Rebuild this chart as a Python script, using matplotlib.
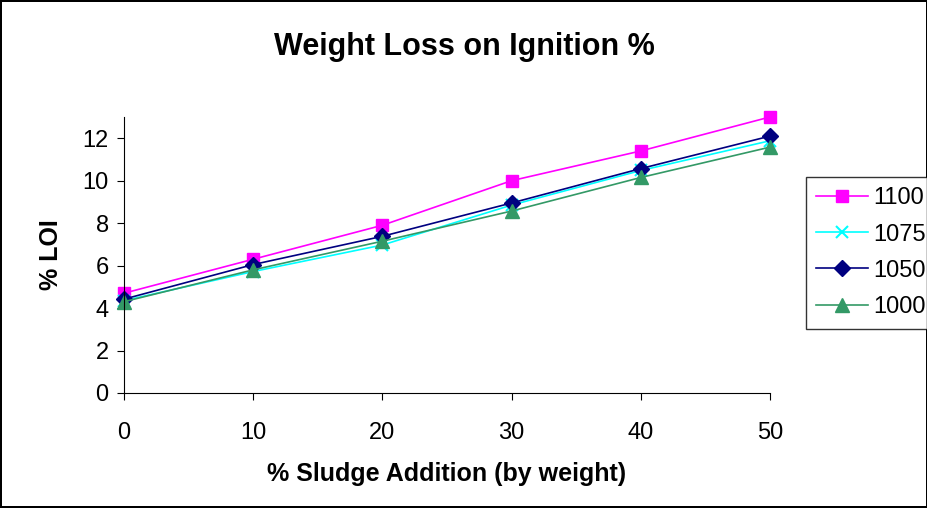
import numpy as np
import matplotlib.pyplot as plt

plt.rcParams['font.family'] = ['Liberation Sans', 'DejaVu Sans']

# дані
sludge = [0, 10, 20, 30, 40, 50]
loi_1100 = [4.7, 6.3, 7.9, 10.0, 11.4, 13.0]
loi_1075 = [4.35, 5.72, 6.97, 8.85, 10.48, 11.88]
loi_1050 = [4.42, 6.05, 7.38, 8.95, 10.57, 12.1]
loi_1000 = [4.3, 5.8, 7.15, 8.57, 10.15, 11.58]

fig = plt.figure(figsize=(9.28, 5.08), dpi=100, edgecolor='black', linewidth=1.5)
ax = fig.add_axes([0.1336, 0.2264, 0.6961, 0.5433])

ax.plot(sludge, loi_1100, color='#FF00FF', marker='s', markersize=9, lw=1.2, label='1100', clip_on=False)
ax.plot(sludge, loi_1075, color='#00FFFF', marker='x', markersize=9, mew=1.5, lw=1.2, label='1075', clip_on=False)
ax.plot(sludge, loi_1050, color='#000080', marker='D', markersize=8, lw=1.2, label='1050', clip_on=False)
ax.plot(sludge, loi_1000, color='#339966', marker='^', markersize=10, lw=1.2, label='1000', clip_on=False)

ax.set_xlim(0, 50)
ax.set_ylim(0, 13)
ax.set_xticks(sludge)
ax.set_yticks(np.arange(0, 13, 2))
ax.spines['top'].set_visible(False)
ax.spines['right'].set_visible(False)
ax.tick_params(labelsize=17, length=5, pad=6)
ax.tick_params(axis='x', pad=16)

ax.set_xlabel('% Sludge Addition (by weight)', fontsize=18, fontweight='bold', labelpad=13)
ax.set_ylabel('% LOI', fontsize=18, fontweight='bold', labelpad=14)
fig.text(0.5, 0.908, 'Weight Loss on Ignition %', ha='center', va='center',
         fontsize=22, fontweight='bold')

leg = fig.legend(loc='upper left', bbox_to_anchor=(0.868, 0.652), fontsize=17,
                 frameon=True, fancybox=False, edgecolor='black', borderaxespad=0,
                 handlelength=2.2, labelspacing=0.6, handletextpad=0.2, borderpad=0.45)
leg.get_frame().set_linewidth(1)

fig.savefig('out.png', dpi=100, edgecolor=fig.get_edgecolor())
